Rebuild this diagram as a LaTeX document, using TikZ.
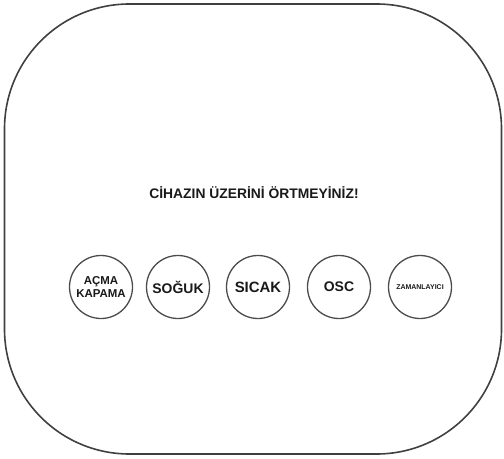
\documentclass[tikz,border=0pt]{standalone}
\usepackage{fontspec}
\setmainfont{Liberation Sans}
\begin{document}
\begin{tikzpicture}[x=1bp,y=-1bp,
  btn/.style={draw=black!70,line width=1.3bp,circle,minimum size=63bp,inner sep=0pt,align=center,text=black!90}]
\useasboundingbox (0,0) rectangle (504,459);
% case outline and label
\draw[line width=1.6bp,black!75,rounded corners=125bp] (4.5,4) rectangle (501.5,454);
\node[font=\bfseries\fontsize{13.9}{15}\selectfont,text=black!90] (warn) at (254,193) {CİHAZIN ÜZERİNİ ÖRTMEYİNİZ!};
\node[btn,font=\bfseries\fontsize{11.5}{13.5}\selectfont] (onoff) at (101,287) {AÇMA\\KAPAMA};
\node[btn,font=\bfseries\fontsize{14}{16}\selectfont] (cold) at (178,287) {SOĞUK};
\node[btn,font=\bfseries\fontsize{15}{17}\selectfont] (hot) at (258,287) {SICAK};
\node[btn,font=\bfseries\fontsize{14}{16}\selectfont] (osc) at (339,287) {OSC};
\node[btn,font=\bfseries\fontsize{7}{8}\selectfont] (timer) at (420,287) {ZAMANLAYICI};
\end{tikzpicture}
\end{document}
